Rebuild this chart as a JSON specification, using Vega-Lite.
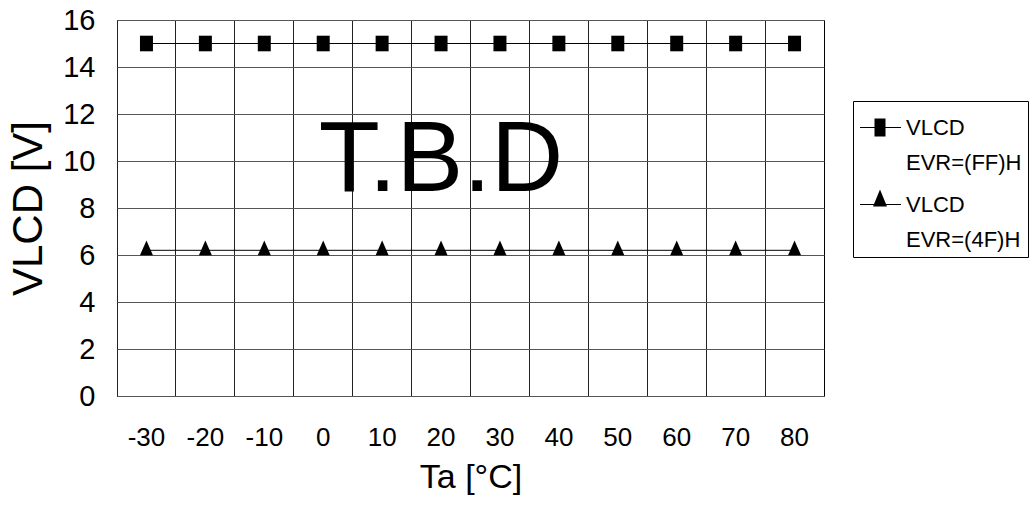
{
  "$schema": "https://vega.github.io/schema/vega-lite/v6.json",
  "width": 707,
  "height": 376,
  "autosize": {"type": "none"},
  "padding": {"left": 117, "top": 20, "right": 205, "bottom": 117},
  "background": "white",
  "config": {
    "font": "Liberation Sans",
    "view": {"stroke": "black", "strokeWidth": 1},
    "axis": {"labelColor": "black", "titleColor": "black", "titleFontWeight": "normal", "domain": false, "ticks": false},
    "style": {"guide-label": {"lineHeight": 35}}
  },
  "data": {
    "values": [
      {"Ta": "-30", "series": "FF", "V": 15},
      {"Ta": "-20", "series": "FF", "V": 15},
      {"Ta": "-10", "series": "FF", "V": 15},
      {"Ta": "0", "series": "FF", "V": 15},
      {"Ta": "10", "series": "FF", "V": 15},
      {"Ta": "20", "series": "FF", "V": 15},
      {"Ta": "30", "series": "FF", "V": 15},
      {"Ta": "40", "series": "FF", "V": 15},
      {"Ta": "50", "series": "FF", "V": 15},
      {"Ta": "60", "series": "FF", "V": 15},
      {"Ta": "70", "series": "FF", "V": 15},
      {"Ta": "80", "series": "FF", "V": 15},
      {"Ta": "-30", "series": "4F", "V": 6.2},
      {"Ta": "-20", "series": "4F", "V": 6.2},
      {"Ta": "-10", "series": "4F", "V": 6.2},
      {"Ta": "0", "series": "4F", "V": 6.2},
      {"Ta": "10", "series": "4F", "V": 6.2},
      {"Ta": "20", "series": "4F", "V": 6.2},
      {"Ta": "30", "series": "4F", "V": 6.2},
      {"Ta": "40", "series": "4F", "V": 6.2},
      {"Ta": "50", "series": "4F", "V": 6.2},
      {"Ta": "60", "series": "4F", "V": 6.2},
      {"Ta": "70", "series": "4F", "V": 6.2},
      {"Ta": "80", "series": "4F", "V": 6.2}
    ]
  },
  "encoding": {
    "x": {
      "field": "Ta",
      "type": "ordinal",
      "sort": ["-30", "-20", "-10", "0", "10", "20", "30", "40", "50", "60", "70", "80"],
      "scale": {"type": "band", "paddingInner": 0, "paddingOuter": 0},
      "axis": {
        "title": "Ta [°C]",
        "titleFontSize": 34,
        "titlePadding": 10,
        "labelFontSize": 26,
        "labelPadding": 28,
        "labelAngle": 0,
        "grid": true,
        "gridColor": "#222222",
        "gridOpacity": 1,
        "gridWidth": 1,
        "bandPosition": 0
      }
    },
    "y": {
      "field": "V",
      "type": "quantitative",
      "scale": {"domain": [0, 16], "nice": false},
      "axis": {
        "title": "VLCD [V]",
        "titleFontSize": 42,
        "titlePadding": 12,
        "labelFontSize": 29,
        "labelPadding": 22,
        "values": [0, 2, 4, 6, 8, 10, 12, 14, 16],
        "grid": true,
        "gridColor": "#555555",
        "gridOpacity": 1,
        "gridWidth": 1
      }
    }
  },
  "resolve": {"scale": {"shape": "independent"}},
  "layer": [
    {
      "mark": {"type": "line", "color": "black", "strokeWidth": 1},
      "encoding": {"detail": {"field": "series"}}
    },
    {
      "mark": {"type": "point", "filled": true, "color": "black", "opacity": 1, "size": 169},
      "encoding": {
        "shape": {
          "field": "series",
          "type": "nominal",
          "scale": {"domain": ["FF", "4F"], "range": ["M-1,-1.2H1V1.2H-1Z", "M0,-1.5L1,0.75H-1Z"]},
          "legend": null
        }
      }
    },
    {
      "mark": {"type": "point", "filled": true, "color": "black", "opacity": 1, "size": 0},
      "encoding": {
        "shape": {
          "field": "series",
          "type": "nominal",
          "scale": {"domain": ["FF", "4F"], "range": ["M-1,0.9H3.1V1H-1ZM0.45,0.05H1.55V1.85H0.45Z", "M-1,0.9H3.1V1H-1ZM1,-0.55L1.7,1.15H0.3Z"]},
          "legend": {
            "title": null,
            "orient": "none",
            "legendX": 736,
            "legendY": 81,
            "strokeColor": "black",
            "fillColor": "white",
            "padding": 6,
            "symbolSize": 400,
            "symbolFillColor": "black",
            "symbolOpacity": 1,
            "labelFontSize": 22,
            "labelColor": "black",
            "labelOffset": 25,
            "labelLimit": 200,
            "rowPadding": 10,
            "labelBaseline": "top",
            "labelExpr": "datum.value === 'FF' ? ['VLCD', 'EVR=(FF)H'] : ['VLCD', 'EVR=(4F)H']"
          }
        }
      }
    },
    {
      "data": {"values": [{"Ta": "20", "V": 10, "label": "T.B.D"}]},
      "mark": {"type": "text", "fontSize": 100, "color": "black", "align": "center", "baseline": "middle"},
      "encoding": {"text": {"field": "label"}}
    }
  ]
}
